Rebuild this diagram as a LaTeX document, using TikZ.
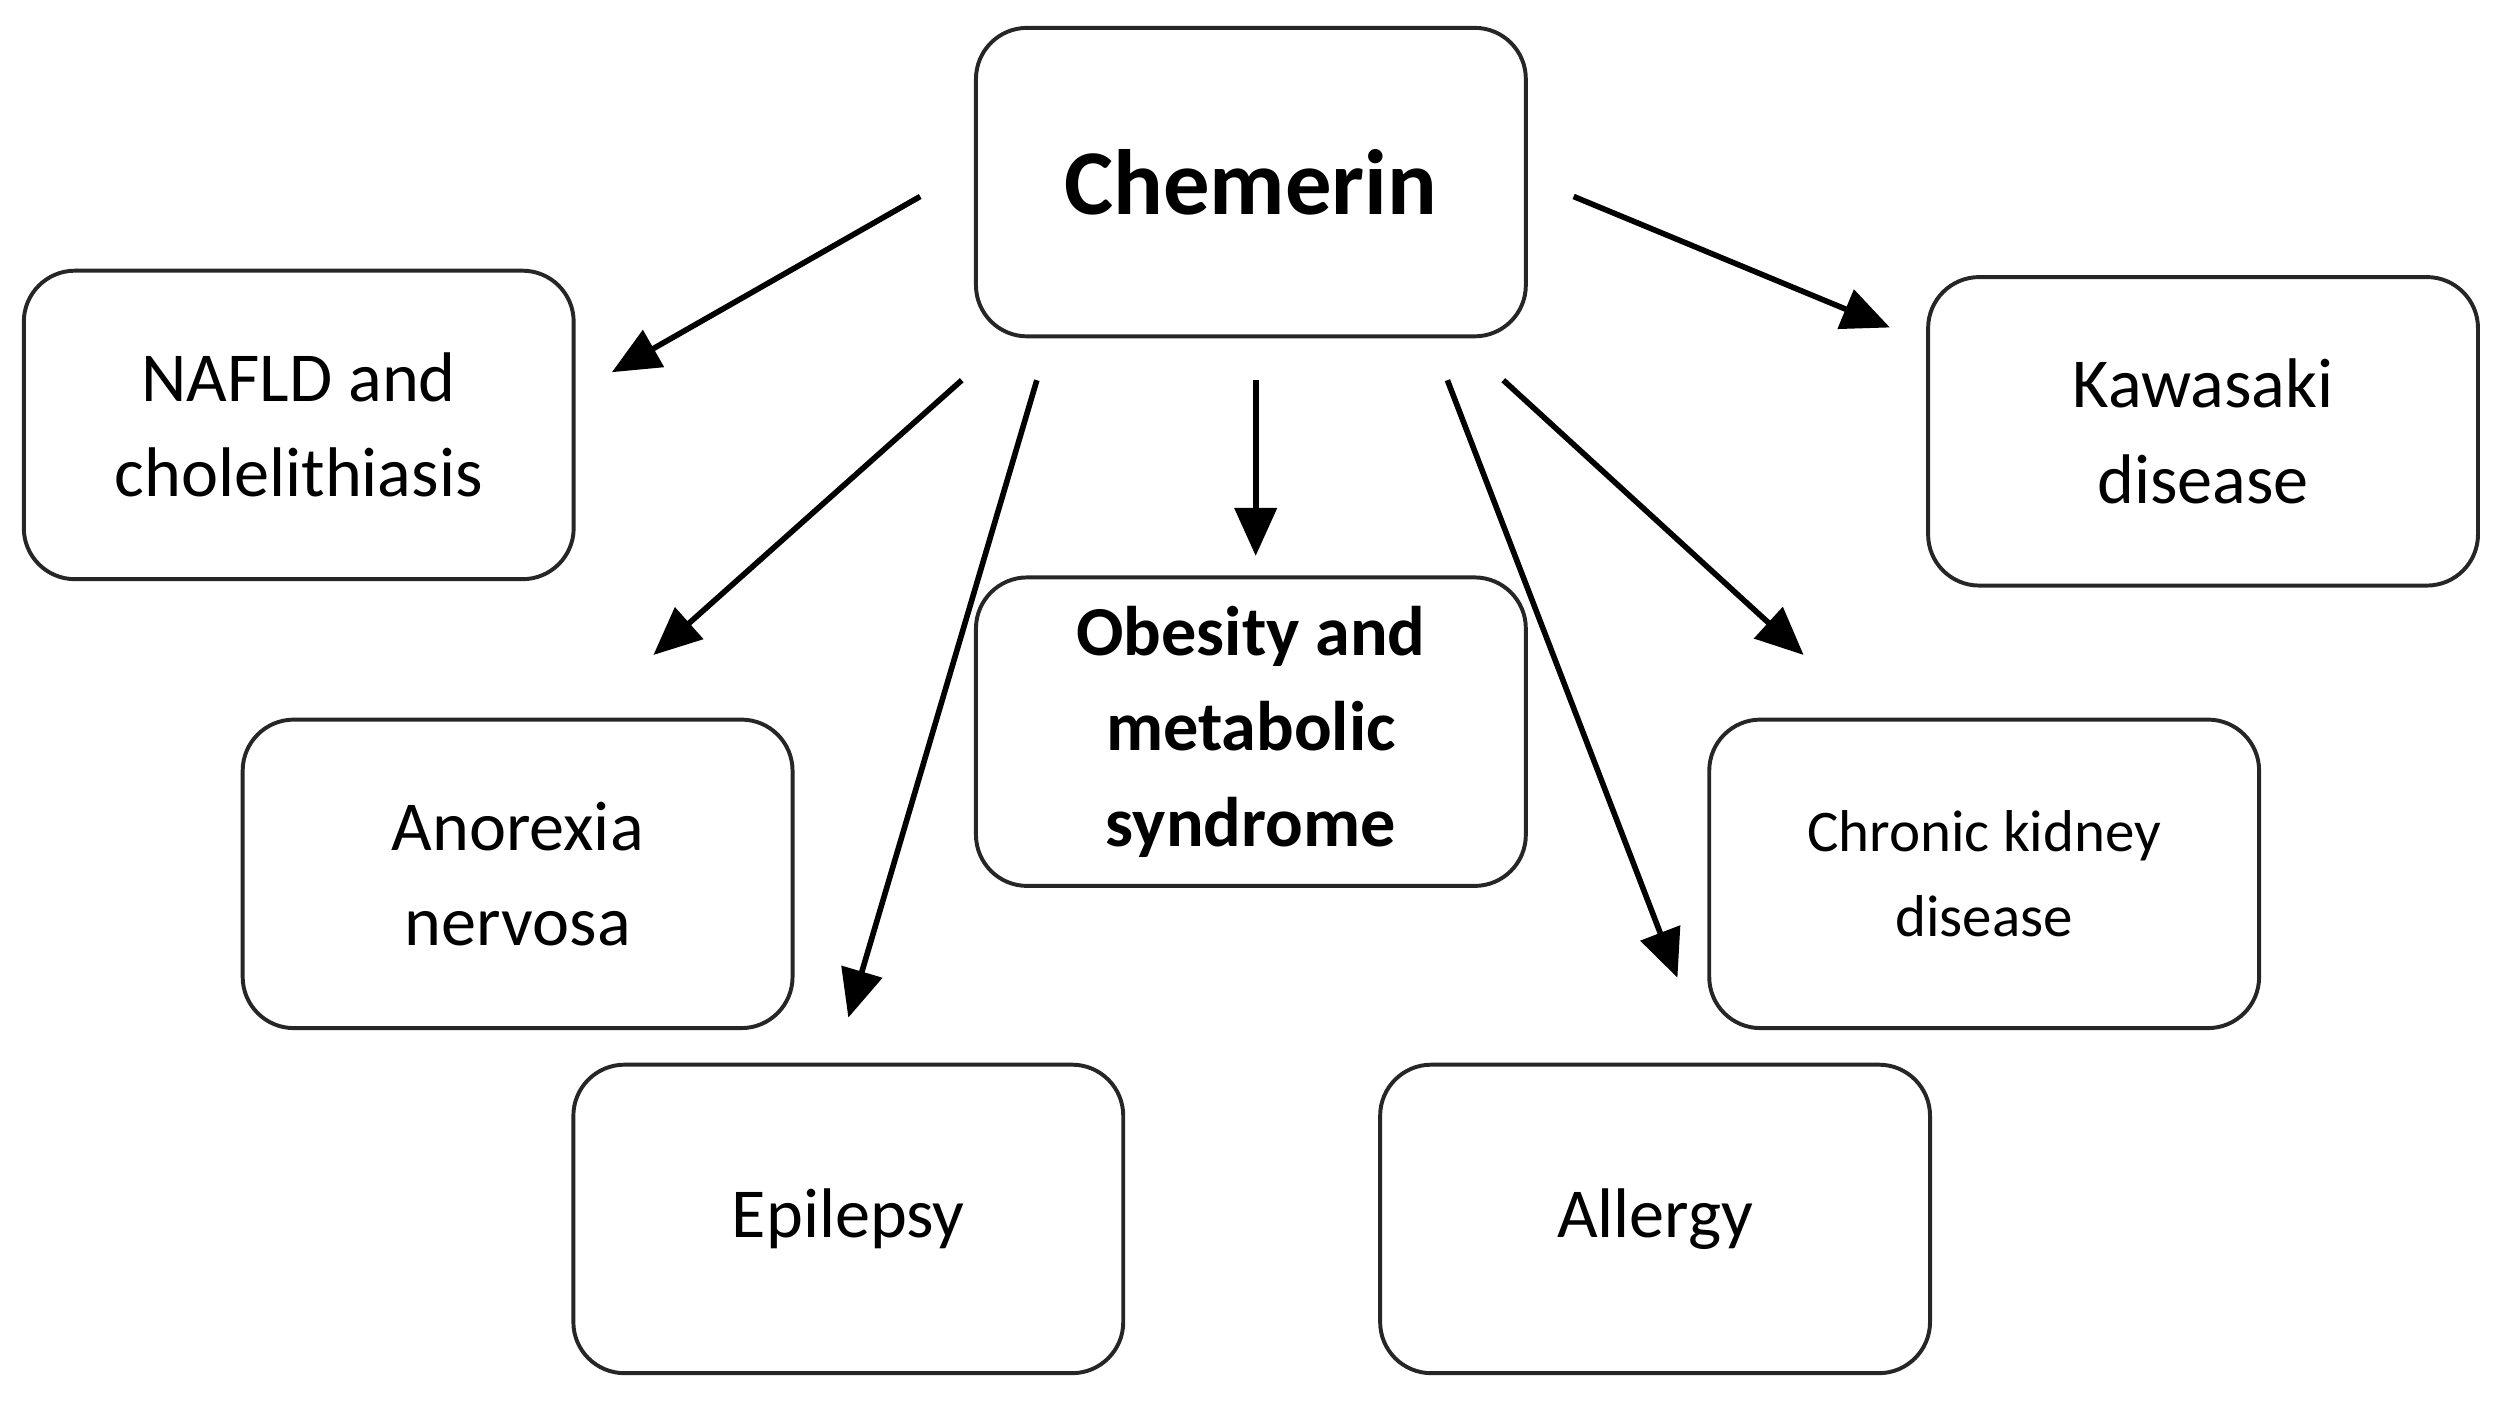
\documentclass[tikz,border=0pt]{standalone}
\usepackage{fontspec}
\setmainfont{Carlito}
\usetikzlibrary{positioning}
\usetikzlibrary{arrows.meta}

\begin{document}
\begin{tikzpicture}[x=0.01cm,y=-0.01cm,
  box/.style={draw=black!85, line width=0.7pt, rounded corners=0.32cm,
    minimum width=3.44cm, minimum height=1.93cm, align=center,
    font=\fontsize{12.5}{17}\selectfont},
  link/.style={-{Triangle[length=0.3cm,width=0.26cm]}, line width=1pt}]
%% page frame
\useasboundingbox (0,0) rectangle (1563,880);
%% boxes
\node[box, font=\fontsize{16.5}{20}\selectfont\bfseries] (chem) at (783,114) {Chemerin};
\node[box] (nafld) at (187,266) {NAFLD and\\cholelithiasis};
\node[box] (kawa) at (1379,270) {Kawasaki\\disease};
\node[box] (anor) at (324,547) {Anorexia\\nervosa};
\node[box, font=\fontsize{12.5}{17}\selectfont\bfseries] (obes) at (783,458) {Obesity and\\metabolic\\syndrome};
\node[box, font=\fontsize{10.5}{15}\selectfont] (ckd) at (1242,547) {Chronic kidney\\disease};
\node[box] (epil) at (531,763) {Epilepsy};
\node[box] (allg) at (1036,763) {Allergy};
%% arrow ends
\coordinate (s1) at (576,123); \coordinate (e1) at (383,233);
\coordinate (s2) at (602,238); \coordinate (e2) at (409,410);
\coordinate (s3) at (649,238); \coordinate (e3) at (531,637);
\coordinate (s4) at (786,238); \coordinate (e4) at (786,348);
\coordinate (s5) at (906,238); \coordinate (e5) at (1050,612);
\coordinate (s6) at (941,238); \coordinate (e6) at (1129,410);
\coordinate (s7) at (985,123); \coordinate (e7) at (1183,205);
\foreach \i in {1,...,7}
  \draw[link] (s\i) -- (e\i);
\end{tikzpicture}
\end{document}
